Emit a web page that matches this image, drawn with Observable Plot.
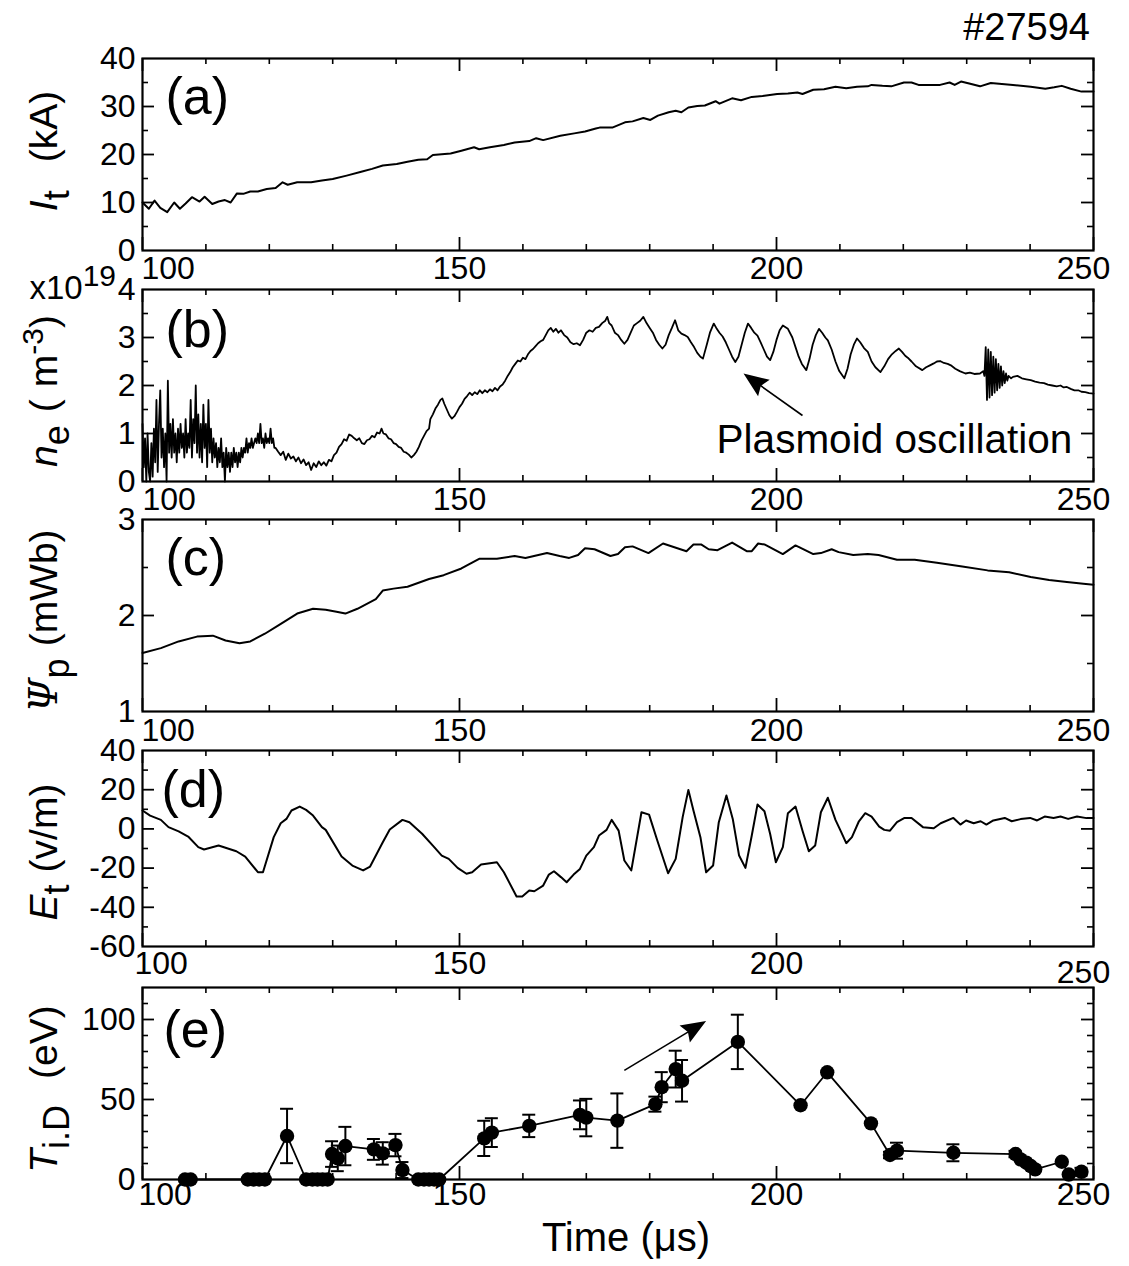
<!DOCTYPE html>
<html>
<head>
<meta charset="utf-8">
<script src="https://cdn.jsdelivr.net/npm/d3@7"></script>
<script src="https://cdn.jsdelivr.net/npm/@observablehq/plot@0.6"></script>
<style>
html, body { margin: 0; padding: 0; background: #fff; }
#chart { position: relative; width: 1129px; height: 1266px; background: #fff; overflow: hidden; }
#chart svg { position: absolute; left: 0; }
</style>
</head>
<body>
<div id="chart"></div>
<script>
// ---------------- DATA ----------------
const shotLabel = "#27594";
const timeAxisTitle = "Time (μs)";
const xDomain = [100, 250];
const xMajorTicks = [100, 150, 200, 250];
const xMinorTicks = [110, 120, 130, 140, 160, 170, 180, 190, 210, 220, 230, 240];
const xTickLabels = [100, 150, 200, 250];

// (a) toroidal current I_t (kA)
const currentIt = [[100,10.0],[101,8.7],[101.9,10.4],[102.8,8.9],[103.9,8.0],[105,10.0],[105.9,8.7],[106.8,9.8],[107.8,11.1],[109,10.2],[109.8,11.2],[111,9.7],[112,10.2],[113,10.5],[113.9,10.0],[114.9,11.9],[115.9,11.8],[117,12.3],[118.2,12.3],[119.6,12.8],[121,13.0],[122.1,14.2],[122.9,13.7],[124.4,14.2],[126.6,14.2],[128.3,14.6],[130,14.9],[132.2,15.6],[134.5,16.4],[136.2,17.0],[137.9,17.7],[140.1,18.0],[141.8,18.5],[143.5,18.9],[144.9,19.0],[145.8,19.9],[148.6,20.2],[150.3,20.8],[152.3,21.5],[153.1,21.1],[154.8,21.5],[157,22.0],[158.7,22.5],[161,22.8],[162.1,23.4],[163.2,23.0],[165.9,23.9],[168.1,24.4],[169.8,24.8],[171.5,25.4],[172.1,25.6],[174.1,25.6],[176.1,26.7],[177.3,26.9],[179,27.6],[180.1,27.2],[181.3,28.1],[183,28.8],[184.1,29.1],[185,28.8],[186.1,29.8],[187.5,30.1],[188.7,30.2],[190.4,31.1],[191,30.6],[193,31.7],[194.4,31.3],[196.1,32.0],[197.8,32.2],[200.1,32.6],[201.8,32.7],[203.3,32.9],[204.1,32.6],[205.8,33.5],[207.5,33.6],[209.3,34.1],[211,33.8],[212.7,34.1],[214.4,34.2],[215,34.5],[216.7,34.3],[218.1,34.2],[220.1,35.0],[221.3,35.0],[222.4,34.5],[225.8,34.5],[227.3,35.0],[228.1,34.5],[229.1,35.2],[230.4,34.8],[232.1,34.2],[233.8,34.9],[237.3,34.5],[240.1,34.1],[242.4,33.7],[243.8,34.0],[245,34.3],[246.4,33.7],[248.1,33.1],[250,33.1]];

// (b) electron density n_e (x10^19 m^-3)
const densityNe = [[100.0,1.2],[100.2,0.3],[100.4,0.9],[100.6,0.0],[100.8,1.0],[101.0,0.2],[101.2,0.0],[101.4,0.8],[101.6,0.1],[101.8,1.1],[102.0,0.4],[102.2,1.7],[102.4,0.2],[102.6,1.2],[102.8,1.9],[103.0,0.5],[103.2,1.1],[103.4,0.3],[103.6,1.0],[103.8,0.0],[104.0,2.1],[104.2,0.6],[104.4,1.2],[104.6,0.5],[104.8,1.3],[105.0,0.6],[105.2,1.0],[105.4,0.4],[105.6,1.1],[105.8,0.6],[106.0,1.2],[106.2,0.7],[106.4,1.0],[106.6,0.5],[106.8,1.3],[107.0,0.6],[107.2,1.0],[107.4,0.7],[107.6,1.7],[107.8,0.5],[108.0,1.3],[108.2,0.8],[108.4,2.0],[108.6,0.6],[108.8,1.4],[109.0,0.5],[109.2,1.2],[109.4,0.4],[109.6,1.6],[109.8,0.7],[110.0,1.2],[110.2,0.3],[110.4,1.7],[110.6,0.6],[110.8,1.1],[111.0,0.4],[111.2,0.9],[111.4,0.5],[111.6,0.8],[111.8,0.3],[112.0,0.7],[112.2,0.4],[112.4,0.9],[112.6,0.3],[112.8,0.6],[113.0,0.0],[113.2,0.7],[113.4,0.3],[113.6,0.6],[113.8,0.2],[114.0,0.6],[114.2,0.3],[114.4,0.7],[114.6,0.4],[114.8,0.6],[115.0,0.3],[115.2,0.6],[115.4,0.4],[115.6,0.7],[115.8,0.5],[116.0,0.7],[116.2,0.6],[116.4,0.9],[116.6,0.6],[116.8,0.8],[117.0,0.7],[117.2,0.9],[117.4,0.7],[117.6,0.8],[117.8,0.9],[118.0,0.8],[118.2,1.0],[118.4,0.8],[118.6,1.2],[118.8,0.8],[119.0,0.9],[119.2,0.7],[119.4,1.0],[119.6,0.8],[119.8,0.9],[120.0,0.8],[120.2,1.1],[120.4,0.8],[120.6,0.9],[120.8,0.7],[121.0,0.7],[121.4,0.62],[121.8,0.55],[122.2,0.62],[122.6,0.45],[123.0,0.58],[123.4,0.48],[123.8,0.52],[124.2,0.42],[124.6,0.5],[125.0,0.38],[125.4,0.46],[125.8,0.34],[126.2,0.4],[126.6,0.24],[127.0,0.38],[127.4,0.3],[127.8,0.42],[128.2,0.34],[128.6,0.4],[129.0,0.33],[129.4,0.45],[129.8,0.42],[130.2,0.55],[130.6,0.6],[131.0,0.72],[131.4,0.78],[131.8,0.88],[132.2,0.85],[132.6,0.98],[133.0,0.95],[133.4,0.9],[133.8,0.86],[134.2,0.9],[134.6,0.8],[135.0,0.78],[135.4,0.86],[135.8,0.88],[136.2,0.95],[136.6,0.92],[137.0,1.02],[137.4,1.0],[137.7,1.1],[138.0,1.0],[138.4,0.98],[138.8,0.9],[139.2,0.88],[139.6,0.8],[140.0,0.78],[140.4,0.72],[140.8,0.7],[141.2,0.62],[141.6,0.6],[142.0,0.56],[142.4,0.5],[142.8,0.55],[143.2,0.62],[143.6,0.72],[144.0,0.85],[144.4,0.95],[144.8,1.05],[145.2,1.1],[145.4,1.3],[145.8,1.4],[146.2,1.52],[146.6,1.6],[147.0,1.7],[147.3,1.73],[147.6,1.62],[148.0,1.5],[148.4,1.38],[148.8,1.31],[149.2,1.36],[149.6,1.45],[150.0,1.55],[150.4,1.62],[150.8,1.72],[151.2,1.78],[151.6,1.85],[152.0,1.8],[152.4,1.86],[152.8,1.82],[153.2,1.9],[153.6,1.84],[154.0,1.9],[154.4,1.86],[154.8,1.92],[155.2,1.88],[155.6,1.95],[156.0,1.9],[156.4,1.98],[156.8,2.02],[157.2,2.1],[157.6,2.2],[158.0,2.28],[158.4,2.38],[158.8,2.45],[159.2,2.52],[159.6,2.5],[160.0,2.58],[160.4,2.55],[160.8,2.65],[161.2,2.72],[161.6,2.76],[162.0,2.82],[162.4,2.88],[162.8,2.92],[163.2,2.95],[163.6,3.05],[164.0,3.15],[164.4,3.2],[164.8,3.12],[165.2,3.18],[165.6,3.1],[166.0,3.15],[166.5,3.05],[167.0,3.0],[167.5,2.9],[168.0,2.86],[168.5,2.88],[169.0,2.84],[169.5,2.95],[170.0,3.1],[170.5,3.15],[171.0,3.12],[171.5,3.2],[172.0,3.22],[172.5,3.3],[173.0,3.35],[173.3,3.43],[173.6,3.3],[174.0,3.25],[174.5,3.1],[175.0,3.05],[175.5,2.95],[176.0,2.87],[176.5,2.95],[177.0,3.1],[177.5,3.25],[178.0,3.3],[178.5,3.35],[179.0,3.43],[179.5,3.3],[180.0,3.2],[180.5,3.1],[181.0,2.95],[181.5,2.85],[182.0,2.77],[182.5,2.85],[183.0,3.05],[183.5,3.2],[184.0,3.36],[184.5,3.15],[185.0,3.08],[185.5,3.05],[186.0,3.01],[186.5,2.9],[187.0,2.8],[187.5,2.68],[188.0,2.6],[188.4,2.56],[189.0,2.85],[189.5,3.1],[190.1,3.29],[190.5,3.2],[191.0,3.1],[191.5,3.02],[192.0,2.9],[192.5,2.75],[193.0,2.6],[193.5,2.49],[194.0,2.6],[194.5,2.85],[195.0,3.1],[195.5,3.29],[196.0,3.2],[196.5,3.1],[197.0,3.04],[197.5,2.9],[198.0,2.75],[198.5,2.6],[199.0,2.53],[199.5,2.7],[200.0,2.95],[200.5,3.15],[201.0,3.25],[201.8,3.18],[202.5,3.0],[203.0,2.8],[203.5,2.6],[204.0,2.45],[204.7,2.32],[205.2,2.55],[205.7,2.85],[206.2,3.05],[206.7,3.18],[207.2,3.1],[207.7,3.0],[208.1,2.94],[208.7,2.75],[209.3,2.5],[209.9,2.3],[210.7,2.15],[211.2,2.35],[211.7,2.65],[212.2,2.85],[212.7,2.98],[213.2,2.9],[213.8,2.78],[214.4,2.7],[215.0,2.5],[215.6,2.38],[216.4,2.28],[217.0,2.4],[217.6,2.55],[218.2,2.65],[218.8,2.72],[219.3,2.77],[219.8,2.7],[220.3,2.62],[220.7,2.58],[221.3,2.5],[222.0,2.4],[223.0,2.32],[223.6,2.38],[224.2,2.42],[224.8,2.46],[225.3,2.5],[225.8,2.51],[226.4,2.47],[227.0,2.45],[227.5,2.42],[228.2,2.35],[228.9,2.3],[229.8,2.25],[230.5,2.27],[231.2,2.24],[232.1,2.25],[232.6,2.3],[232.8,2.2],[233.0,2.8],[233.2,1.7],[233.4,2.75],[233.6,1.75],[233.8,2.7],[234.0,1.8],[234.2,2.6],[234.4,1.85],[234.6,2.55],[234.8,1.9],[235.0,2.45],[235.2,1.95],[235.4,2.4],[235.6,2.0],[235.8,2.3],[236.0,2.05],[236.2,2.25],[236.4,2.1],[236.6,2.2],[237.0,2.15],[237.3,2.18],[238.0,2.2],[238.7,2.15],[239.4,2.13],[240.1,2.11],[240.8,2.08],[241.5,2.06],[242.2,2.05],[242.8,2.02],[243.5,2.0],[244.2,1.98],[244.8,2.0],[245.3,1.96],[245.8,1.97],[246.4,1.93],[247.0,1.9],[247.6,1.9],[248.1,1.87],[248.7,1.86],[249.3,1.84],[250.0,1.83]];

// (c) poloidal flux Psi_p (mWb)
const fluxPsi = [[100,1.61],[102.9,1.66],[105.7,1.73],[108.6,1.78],[111.1,1.79],[113.1,1.74],[115.3,1.71],[117,1.73],[119.3,1.81],[121.5,1.90],[124.4,2.02],[126.9,2.07],[128.9,2.06],[130.6,2.04],[132,2.02],[133.9,2.07],[136.8,2.17],[137.9,2.26],[139.6,2.28],[141.8,2.30],[145.2,2.38],[147.5,2.42],[150.3,2.49],[151.4,2.53],[153.1,2.59],[155.9,2.59],[158.7,2.62],[160.4,2.60],[163.8,2.65],[165.8,2.62],[167.3,2.60],[168.7,2.63],[169.8,2.70],[171.3,2.69],[173.8,2.62],[175,2.64],[176.1,2.71],[177.3,2.72],[179.8,2.65],[182.1,2.75],[185.8,2.67],[186.9,2.74],[188.1,2.74],[189.3,2.69],[190.7,2.68],[193,2.76],[195.3,2.67],[196.1,2.67],[197.1,2.75],[198.1,2.74],[201,2.64],[203,2.73],[205.8,2.64],[207,2.65],[208.7,2.69],[209.8,2.66],[212.1,2.63],[214.4,2.64],[216.1,2.63],[219,2.58],[221.8,2.58],[225.3,2.55],[229.3,2.51],[233.3,2.47],[236.7,2.45],[240.1,2.40],[243,2.37],[245.8,2.35],[248.4,2.33],[250,2.32]];

// (d) toroidal electric field E_t (V/m)
const fieldEt = [[100,9.4],[101.2,6.8],[102.9,4.6],[104.1,0.9],[105.7,-1.3],[107.2,-3.9],[108.8,-9.3],[109.7,-10.5],[112,-8.5],[114.8,-11.4],[116.2,-14.1],[118.2,-22.1],[119,-22.1],[120.7,-4.2],[121.8,2.9],[122.7,5.1],[123.5,9.4],[124.8,11.4],[125.8,9.7],[126.9,6.8],[128.3,0.9],[128.9,-0.5],[131.4,-14.1],[133.1,-18.7],[134.8,-21.2],[135.9,-19.2],[137.9,-6.8],[139,-0.3],[141,4.6],[142.1,3.4],[144.1,-2.5],[145.8,-8.5],[147.2,-13.6],[148.3,-15.3],[149.7,-19.9],[151.1,-22.9],[152,-22.1],[153.4,-18.2],[154.8,-17.5],[155.9,-17],[157,-22.1],[159,-34.5],[159.9,-34.5],[161,-31.4],[161.8,-31.8],[163.2,-28.9],[164.1,-23.3],[164.9,-21.6],[166,-24.6],[166.9,-27.2],[168,-23.3],[169,-20.4],[170,-13.6],[171.2,-9.3],[172,-3.4],[173.2,-0.5],[174,4.6],[175.1,-0.9],[176,-16.1],[177.1,-21.2],[178.7,8.5],[179.9,7.3],[181.2,-5.9],[182.9,-22.6],[184.1,-15.3],[185.2,6],[186.1,19.9],[186.9,9.4],[188,-4.2],[188.9,-22.1],[190,-18.7],[190.9,3.4],[192.1,17],[193.1,5.1],[194.1,-13.6],[195.1,-19.9],[196.1,-3.4],[197,12.4],[198.1,9],[199,-2.6],[199.9,-17],[201,-9.3],[201.8,8],[203,11.4],[204.1,-0.9],[205.1,-11.4],[206.1,-8.5],[207,8.5],[208.1,15.9],[209.3,4.6],[210.1,-0.9],[211,-7.3],[211.9,-4.2],[213,3.9],[214,8],[215,6.3],[216.2,1.2],[217,-0.5],[217.9,-0.9],[219,3.4],[220.2,5.6],[221.3,5.6],[223.1,0.9],[224.8,0.3],[225.9,2.9],[227.9,5.6],[229,2.2],[229.9,4.3],[231.1,2.9],[232.2,3.9],[233.1,2.2],[234.2,4.3],[236,5.6],[237.1,3.9],[238.5,5],[240,5.6],[241.1,4.3],[242.3,6.3],[243.7,5.6],[244.8,6.3],[246,5.1],[247.4,6.3],[248.9,5.5],[250,5.6]];

// (e) deuterium ion temperature T_i.D (eV): time, value, error half-length
const tiTime  = [106.7,107.6,116.6,117.5,118.4,119.3,122.8,125.8,126.8,127.6,128.4,129.2,129.9,130.8,132.0,136.5,137.9,139.9,141.0,143.5,144.4,145.2,146.0,146.8,153.9,155.1,161.0,169.0,170.0,174.9,180.9,181.9,184.1,185.1,193.9,203.8,208.0,214.9,217.9,219.0,227.9,237.7,238.5,239.4,240.1,240.8,245.0,246.1,248.1];
const tiValue = [0,0,0,0,0,0,27.2,0,0,0,0,0,15.9,13.2,20.9,18.8,16.3,21.5,5.9,0,0,0,0,0,25.7,29.3,33.5,40.4,38.7,36.8,47.1,57.7,69.0,61.7,86.0,46.4,67.0,35.1,15.3,18.0,16.7,15.9,12.6,10.5,8.4,6.3,11.1,3.1,4.8];
const tiError = [0,0,0,0,0,0,17,0,0,0,0,0,8,8,12,6.5,7,7,5,0,0,0,0,0,11,9,7,9,11.7,17,4.7,9.4,11.5,13,17,0,0,0,2,5,5.3,2,0,0,0,0,0,0,2.5];

// annotations (data coordinates)
const plasmoidNote = {text: "Plasmoid oscillation", t: 218.6, v: 0.86};
const plasmoidArrow = {tail: [204.1, 1.375], tip: [194.8, 2.25]};
const tiArrow = {tail: [176.0, 68.2], tip: [188.9, 99.0]};

// ---------------- LAYOUT ----------------
const FONT = '"Liberation Sans", Arial, Helvetica, sans-serif';
const W = 1129, ML = 142, MR = 36, FW = W - ML - MR;
const chart = document.getElementById("chart");
const KX = FW / (xDomain[1] - xDomain[0]);

// filled arrow head with its tip at the origin, pointing up before rotation
const HEAD_L = 25, HEAD_W = 10;
const arrowHead = {
  draw(context) {
    context.moveTo(0, 0);
    context.lineTo(HEAD_W, HEAD_L);
    context.lineTo(0, HEAD_L * 0.85);
    context.lineTo(-HEAD_W, HEAD_L);
    context.closePath();
  }
};

function arrowMarks(a, kx, ky) {
  const [t0, v0] = a.tail, [t1, v1] = a.tip;
  const dx = (t1 - t0) * kx, dy = -(v1 - v0) * ky;
  const L = Math.hypot(dx, dy), ux = dx / L, uy = dy / L;
  const back = HEAD_L * 0.6;
  const et = t1 - back * ux / kx, ev = v1 + back * uy / ky;
  const rot = Math.atan2(ux, -uy) * 180 / Math.PI;
  return [
    Plot.link([{x1: t0, y1: v0, x2: et, y2: ev}], {x1: "x1", y1: "y1", x2: "x2", y2: "y2", stroke: "black", strokeWidth: 1.6}),
    Plot.dot([{x: t1, y: v1}], {x: "x", y: "y", symbol: arrowHead, r: 5, rotate: rot, fill: "black", stroke: "none"})
  ];
}

function panel(cfg) {
  const pad = 40;
  const h = cfg.bottom - cfg.top;
  const ky = h / (cfg.yDomain[1] - cfg.yDomain[0]);
  const marks = [
    Plot.ruleX(xMinorTicks, {x: d => d, insetTop: h - 6, strokeWidth: 1.6}),
    Plot.ruleX(xMinorTicks, {x: d => d, insetBottom: h - 6, strokeWidth: 1.6}),
    Plot.ruleX(xMajorTicks, {x: d => d, insetTop: h - 13, strokeWidth: 1.8}),
    Plot.ruleX(xMajorTicks, {x: d => d, insetBottom: h - 13, strokeWidth: 1.8}),
    Plot.ruleY(cfg.yMinor, {y: d => d, insetRight: FW - 6, strokeWidth: 1.6}),
    Plot.ruleY(cfg.yMinor, {y: d => d, insetLeft: FW - 6, strokeWidth: 1.6}),
    Plot.ruleY(cfg.yMajor, {y: d => d, insetRight: FW - 12, strokeWidth: 1.8}),
    Plot.ruleY(cfg.yMajor, {y: d => d, insetLeft: FW - 12, strokeWidth: 1.8}),
    Plot.frame({stroke: "black", strokeWidth: 2.2}),
    Plot.axisY(cfg.yLabels, {tickSize: 0, tickPadding: 7, fontSize: 32, label: null, tickFormat: d => String(d)}),
    Plot.text(xTickLabels.filter(d => d === 100), {x: d => d, text: d => String(d), frameAnchor: "bottom", lineAnchor: "top", textAnchor: "start", dy: cfg.xLabelDy, dx: cfg.x100dx, fontSize: 32}),
    Plot.text(xTickLabels.filter(d => d > 100 && d < 250), {x: d => d, text: d => String(d), frameAnchor: "bottom", lineAnchor: "top", dy: cfg.xLabelDy, fontSize: 32}),
    Plot.text(xTickLabels.filter(d => d === 250), {x: d => d, text: d => String(d), frameAnchor: "bottom", lineAnchor: "top", dy: cfg.x250dy, dx: -10, fontSize: 32}),
    Plot.text([cfg.letter], {text: d => d, frameAnchor: "top-left", lineAnchor: "top", textAnchor: "start", dx: cfg.letterDx, dy: cfg.letterDy, fontSize: 52}),
    ...cfg.marks(ky)
  ];
  const svg = Plot.plot({
    width: W, height: h + 2 * pad,
    marginLeft: ML, marginRight: MR, marginTop: pad, marginBottom: pad,
    x: {domain: xDomain, axis: null},
    y: {domain: cfg.yDomain},
    style: {background: "transparent", overflow: "visible", fontFamily: FONT, color: "black"},
    marks
  });
  svg.style.top = (cfg.top - pad) + "px";
  svg.style.position = "absolute";
  chart.appendChild(svg);
}

const toXY = arr => arr.map(([t, v]) => ({t, v}));

// (a)
panel({
  top: 58, bottom: 250, yDomain: [0, 40],
  yLabels: [0, 10, 20, 30, 40], yMajor: [10, 20, 30], yMinor: [5, 15, 25, 35],
  letter: "(a)", letterDx: 23, letterDy: 19, xLabelDy: 6, x250dy: 6, x100dx: -1,
  marks: () => [Plot.line(toXY(currentIt), {x: "t", y: "v", stroke: "black", strokeWidth: 2})]
});

// (b)
panel({
  top: 289, bottom: 481, yDomain: [0, 4],
  yLabels: [0, 1, 2, 3, 4], yMajor: [1, 2, 3], yMinor: [0.5, 1.5, 2.5, 3.5],
  letter: "(b)", letterDx: 23, letterDy: 21, xLabelDy: 6, x250dy: 6, x100dx: 0,
  marks: (ky) => [
    Plot.line(toXY(densityNe), {x: "t", y: "v", stroke: "black", strokeWidth: 1.8}),
    Plot.text([plasmoidNote], {x: "t", y: "v", text: "text", fontSize: 40.5}),
    ...arrowMarks(plasmoidArrow, KX, ky)
  ]
});

// (c)
panel({
  top: 519, bottom: 711, yDomain: [1, 3],
  yLabels: [1, 2, 3], yMajor: [2], yMinor: [1.5, 2.5],
  letter: "(c)", letterDx: 23, letterDy: 19, xLabelDy: 7, x250dy: 7, x100dx: -1,
  marks: () => [Plot.line(toXY(fluxPsi), {x: "t", y: "v", stroke: "black", strokeWidth: 2})]
});

// (d)
panel({
  top: 750, bottom: 946, yDomain: [-60, 40],
  yLabels: [-60, -40, -20, 0, 20, 40], yMajor: [-40, -20, 0, 20], yMinor: [-50, -30, -10, 10, 30],
  letter: "(d)", letterDx: 19, letterDy: 20, xLabelDy: 5, x250dy: 14, x100dx: -8,
  marks: () => [Plot.line(toXY(fieldEt), {x: "t", y: "v", stroke: "black", strokeWidth: 2})]
});

// (e)
const tiRows = tiTime.map((t, i) => ({t, v: tiValue[i], e: tiError[i]}));
const tiErr = tiRows.filter(d => d.e > 0);
const CAP = 6.5 / KX;
panel({
  top: 987, bottom: 1179, yDomain: [0, 120],
  yLabels: [0, 50, 100], yMajor: [50, 100], yMinor: [10, 20, 30, 40, 60, 70, 80, 90, 110],
  letter: "(e)", letterDx: 21, letterDy: 23, xLabelDy: 3, x250dy: 3, x100dx: -4,
  marks: (ky) => [
    Plot.line(tiRows, {x: "t", y: "v", stroke: "black", strokeWidth: 1.8}),
    Plot.ruleX(tiErr, {x: "t", y1: d => d.v - d.e, y2: d => d.v + d.e, stroke: "black", strokeWidth: 2}),
    Plot.ruleY(tiErr, {y: d => d.v + d.e, x1: d => d.t - CAP, x2: d => d.t + CAP, stroke: "black", strokeWidth: 2}),
    Plot.ruleY(tiErr, {y: d => d.v - d.e, x1: d => d.t - CAP, x2: d => d.t + CAP, stroke: "black", strokeWidth: 2}),
    Plot.dot(tiRows, {x: "t", y: "v", r: 7.2, fill: "black", stroke: "none"}),
    ...arrowMarks(tiArrow, KX, ky)
  ]
});

// ---------------- OVERLAY TEXT ----------------
const overlay = d3.create("svg").attr("width", W).attr("height", 1266)
  .style("top", "0px").style("position", "absolute").style("pointer-events", "none")
  .attr("font-family", FONT).attr("fill", "black");

overlay.append("text").attr("x", 1090).attr("y", 40).attr("text-anchor", "end").attr("font-size", 38).text(shotLabel);

const mult = overlay.append("text").attr("x", 116).attr("y", 299).attr("text-anchor", "end").attr("font-size", 33);
mult.append("tspan").text("x10");
mult.append("tspan").attr("dy", -13).attr("font-size", 30).text("19");

overlay.append("text").attr("x", 626).attr("y", 1251).attr("text-anchor", "middle").attr("font-size", 40).text(timeAxisTitle);

function rotTitle(x, y, parts) {
  const t = overlay.append("text").attr("transform", `translate(${x},${y}) rotate(-90)`)
    .attr("text-anchor", "middle").attr("font-size", 39);
  for (const p of parts) {
    const s = t.append("tspan").text(p.text);
    if (p.italic) s.attr("font-style", "italic");
    if (p.size) s.attr("font-size", p.size);
    if (p.dy) s.attr("dy", p.dy);
    if (p.dx) s.attr("dx", p.dx);
    if (p.family) s.attr("font-family", p.family);
  }
}
rotTitle(57, 151, [{text: "I", italic: true}, {text: "t", size: 36, dy: 12}, {text: "(kA)", dy: -12, dx: 28}]);
rotTitle(57, 391, [{text: "n", italic: true}, {text: "e", size: 36, dy: 12}, {text: "(", dy: -12, dx: 13}, {text: "m", dx: 12}, {text: "-3", size: 30, dy: -14}, {text: ")", dy: 14}]);
rotTitle(57, 621, [{text: "Ψ", italic: true, family: '"DejaVu Serif", "Liberation Serif", serif'}, {text: "p", size: 36, dy: 12}, {text: "(mWb)", dy: -12, dx: 12}]);
rotTitle(57, 852, [{text: "E", italic: true}, {text: "t", size: 36, dy: 12}, {text: "(v/m)", dy: -12, dx: 12}]);
rotTitle(57, 1089, [{text: "T", italic: true}, {text: "i.D", size: 36, dy: 12}, {text: "(eV)", dy: -12, dx: 26}]);

chart.appendChild(overlay.node());
</script>
</body>
</html>
